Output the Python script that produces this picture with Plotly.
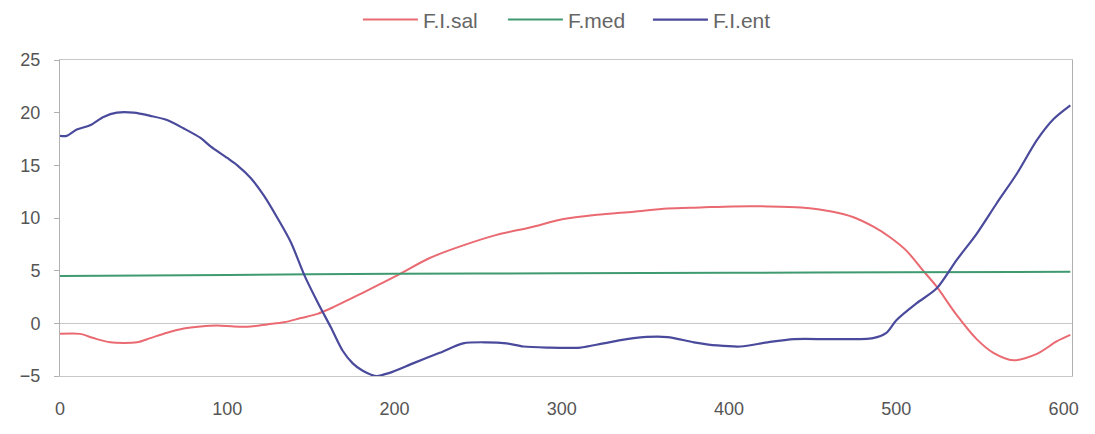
import plotly.graph_objects as go

# F.I.sal (red)
sal_x = [0, 12, 20, 30, 46, 54, 64, 74, 84, 94, 104, 114, 124, 134, 144, 154, 163,
         181, 201, 221, 241, 261, 281, 301, 321, 343, 363, 383, 402, 423, 443, 462,
         474, 486, 496, 506, 516, 524, 536, 548, 558, 570, 584, 596, 604]
sal_y = [-1.0, -1.0, -1.4, -1.8, -1.8, -1.4, -0.9, -0.5, -0.3, -0.2, -0.3, -0.3, -0.1,
         0.1, 0.5, 0.9, 1.5, 2.9, 4.5, 6.2, 7.4, 8.4, 9.1, 9.9, 10.3, 10.6, 10.9, 11.0,
         11.1, 11.1, 11.0, 10.6, 10.1, 9.2, 8.2, 6.9, 5.0, 3.5, 0.8, -1.5, -2.8, -3.5,
         -2.9, -1.7, -1.1]

# F.med (green)
med_x = [0, 100, 200, 300, 400, 500, 604]
med_y = [4.5, 4.6, 4.7, 4.75, 4.8, 4.85, 4.9]

# F.I.ent (blue)
ent_x = [0, 4, 10, 18, 26, 34, 44, 54, 64, 74, 84, 90, 100, 106, 114, 122, 130, 138,
         146, 154, 162, 169, 175, 181, 189, 197, 211, 227, 241, 255, 267, 277, 291,
         311, 325, 343, 363, 379, 393, 407, 423, 439, 462, 486, 494, 500, 512, 524,
         536, 548, 560, 572, 584, 594, 604]
ent_y = [17.8, 17.8, 18.4, 18.8, 19.6, 20.0, 20.0, 19.7, 19.3, 18.5, 17.6, 16.8, 15.7,
         15.0, 13.8, 12.1, 10.0, 7.7, 4.6, 2.0, -0.4, -2.6, -3.8, -4.5, -5.0, -4.7,
         -3.8, -2.8, -1.9, -1.8, -1.9, -2.2, -2.3, -2.3, -1.9, -1.4, -1.3, -1.8, -2.1,
         -2.2, -1.8, -1.5, -1.5, -1.4, -0.9, 0.3, 1.9, 3.3, 6.0, 8.5, 11.4, 14.2,
         17.4, 19.4, 20.7]

x_ticks = [0, 100, 200, 300, 400, 500, 600]
y_ticks = [-5, 0, 5, 10, 15, 20, 25]

fig = go.Figure()
fig.add_trace(go.Scatter(x=sal_x, y=sal_y, name="F.I.sal", mode="lines",
                         line=dict(color="#ea6a72", width=2, shape="spline", smoothing=0.8)))
fig.add_trace(go.Scatter(x=med_x, y=med_y, name="F.med", mode="lines",
                         line=dict(color="#3f9a70", width=2, shape="spline", smoothing=0.8)))
fig.add_trace(go.Scatter(x=ent_x, y=ent_y, name="F.I.ent", mode="lines",
                         line=dict(color="#4a4a9c", width=2.2, shape="spline", smoothing=0.8)))

fig.update_layout(
    width=1087, height=426,
    margin=dict(l=52, r=23, t=52, b=58),
    paper_bgcolor="white", plot_bgcolor="white",
    font=dict(family="Liberation Sans, Arial, sans-serif", size=18, color="#555"),
    showlegend=True,
    legend=dict(orientation="h", xref="container", yref="container",
                x=0.522, xanchor="center", y=0.972, yanchor="middle",
                itemwidth=55, entrywidth=75,
                font=dict(size=21, color="#666"), bgcolor="rgba(0,0,0,0)"),
)
fig.update_xaxes(range=[0, 605], tickvals=x_ticks, showgrid=False, zeroline=False,
                 showline=True, mirror=True, linecolor="#c8c8c8", linewidth=1,
                 ticks="", ticklabelstandoff=16, automargin=False)
fig.update_yaxes(range=[-5, 25], tickvals=y_ticks, showgrid=False,
                 zeroline=True, zerolinecolor="#c8c8c8", zerolinewidth=1,
                 showline=True, mirror=True, linecolor="#b0b0b0", linewidth=1,
                 ticks="outside", ticklen=5, tickcolor="#b0b0b0", ticklabelstandoff=10,
                 automargin=False)

fig.write_html("out.html")
